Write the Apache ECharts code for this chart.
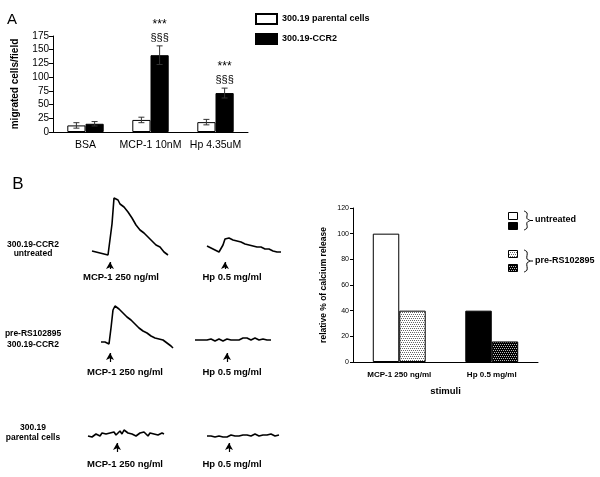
<!DOCTYPE html>
<html>
<head>
<meta charset="utf-8">
<script src="https://cdn.jsdelivr.net/npm/echarts@6/dist/echarts.min.js"></script>
<style>
html, body { margin: 0; padding: 0; background: #fff; }
#chart { width: 600px; height: 477px; }
</style>
</head>
<body>
<div id="chart"></div>
<script>
// ---- panel A : migration assay ----
const migCategories = ['BSA', 'MCP-1 10nM', 'Hp 4.35uM'];
const migParental = [12, 22, 18];
const migParentalErr = [5, 5, 5];
const migCCR2 = [15, 140, 71];
const migCCR2Err = [4, 17, 9];
const migStars = ['', '***', '***'];
const migSects = ['', '§§§', '§§§'];

// ---- panel B : calcium traces (signal, one sample every 2 s) ----
const mcpUntreated = [6,5,5,4,4,4,3,3,2,2,33,59,57,57,53,53,50,48,45,43,39,37,32,31,27,27,24,23,20,19,16,15,12,11,10,8,5,4,2];
const hpUntreated = [11,10,9,8,7,6,5,4,12,18,20,19,19,17,17,16,15,15,14,13,13,12,12,11,11,10,9,10,8,8,7,8,6,6,7,5,4,5];
const mcpPreRS = [8,7,8,6,6,22,40,44,43,41,40,37,36,33,32,30,28,26,25,22,22,19,19,17,16,14,15,12,12,11,10,10,8,7,6,4,2];
const hpPreRS = [10,9,10,11,10,9,10,12,11,10,9,10,11,10,9,10,11,12,10,9,10,11,10,11,12,13,12,11,10,11,12,11,10,10,11,10,10,11,10];
const mcpParental = [9,10,8,9,11,10,9,12,10,11,9,12,11,13,10,12,14,11,15,13,12,10,11,13,9,11,12,10,13,11,9,12,10,11,12,10,11,12,11];
const hpParental = [9,9,9,9,8,9,9,8,8,9,8,9,10,9,9,10,9,10,10,9,10,10,9,10,11,10,9,10,10,11,10,10,11,10,9,10,10];
const injectAt = [9, 9, 4.5, 16, 14.5, 11];

// ---- panel B : calcium release bars ----
const calcCategories = ['MCP-1 250 ng/ml', 'Hp 0.5 mg/ml'];
const calcUntreated = [100, 40];
const calcPreRS = [40, 16];

const FONT = '"Liberation Sans", Arial, sans-serif';
const BAR_FRAC = 0.28;

function dotPattern(bg, dot) {
    const c = document.createElement('canvas');
    c.width = 4; c.height = 4;
    const ctx = c.getContext('2d');
    ctx.fillStyle = bg;
    ctx.fillRect(0, 0, 4, 4);
    ctx.fillStyle = dot;
    [[0, 0], [2, 0], [1, 2], [3, 2]].forEach(p => ctx.fillRect(p[0], p[1], 1, 1));
    return { image: c, repeat: 'repeat' };
}
const lightDots = dotPattern('#fff', '#666');
const darkDots = dotPattern('#000', '#bbb');
const calcColors = [['#fff', '#000'], [lightDots, darkDots]];

function errorSeries(values, errs, pos, marks) {
    return {
        type: 'custom', xAxisIndex: 0, yAxisIndex: 0, z: 5, silent: true,
        data: values.map((v, i) => [i, v, errs[i]]),
        renderItem: function (params, api) {
            const cat = api.value(0), v = api.value(1), e = api.value(2);
            const band = api.size([1, 0])[0];
            const off = (pos - 0.5) * band * BAR_FRAC;
            const top = api.coord([cat, v + e]);
            const bot = api.coord([cat, v - e]);
            const x = top[0] + off;
            const st = { stroke: '#333', lineWidth: 1 };
            const children = [
                { type: 'line', shape: { x1: x, y1: top[1], x2: x, y2: bot[1] }, style: st },
                { type: 'line', shape: { x1: x - 3, y1: top[1], x2: x + 3, y2: top[1] }, style: st },
                { type: 'line', shape: { x1: x - 3, y1: bot[1], x2: x + 3, y2: bot[1] }, style: st }
            ];
            if (marks && marks[0][params.dataIndex]) {
                children.push({ type: 'text', x: x, y: top[1] - 21, style: { text: marks[0][params.dataIndex], fontSize: 12, fontFamily: FONT, fill: '#000', align: 'center', verticalAlign: 'middle' } });
                children.push({ type: 'text', x: x, y: top[1] - 8, style: { text: marks[1][params.dataIndex], fontSize: 11, fontFamily: FONT, fill: '#000', align: 'center', verticalAlign: 'middle' } });
            }
            return { type: 'group', children: children };
        }
    };
}

// trace layouts: left edge, pixel row of zero signal, arrow extent (signal units)
const traceLayout = [
    { data: mcpUntreated, left: 92, zeroY: 257, arrow: [-12, -5] },
    { data: hpUntreated, left: 207, zeroY: 257, arrow: [-12, -5] },
    { data: mcpPreRS, left: 101, zeroY: 350, arrow: [-12, -3] },
    { data: hpPreRS, left: 195, zeroY: 350, arrow: [-12, -3] },
    { data: mcpParental, left: 88, zeroY: 445, arrow: [-7, 2] },
    { data: hpParental, left: 207, zeroY: 445, arrow: [-7, 2] }
];

const grids = [
    { left: 53, top: 36, width: 195, height: 96 },
    { left: 353, top: 208, width: 185, height: 154 }
];
const xAxes = [
    { gridIndex: 0, type: 'category', data: migCategories,
      axisLine: { lineStyle: { color: '#000' } }, axisTick: { show: false },
      axisLabel: { color: '#000', fontSize: 10.5, fontFamily: FONT, margin: 8, interval: 0 } },
    { gridIndex: 1, type: 'category', data: calcCategories,
      axisLine: { lineStyle: { color: '#000' } }, axisTick: { show: false },
      axisLabel: { color: '#000', fontSize: 8, fontWeight: 'bold', fontFamily: FONT, margin: 9, interval: 0 },
      name: 'stimuli', nameLocation: 'middle', nameGap: 24,
      nameTextStyle: { color: '#000', fontSize: 9.5, fontWeight: 'bold', fontFamily: FONT } }
];
const yAxes = [
    { gridIndex: 0, type: 'value', min: 0, max: 175, interval: 25,
      axisLine: { show: true, lineStyle: { color: '#000' } },
      axisTick: { show: true, length: 4, lineStyle: { color: '#000' } },
      axisLabel: { color: '#000', fontSize: 10, fontFamily: FONT, margin: 4 },
      splitLine: { show: false },
      name: 'migrated cells/field', nameLocation: 'middle', nameGap: 33,
      nameTextStyle: { color: '#000', fontSize: 10, fontWeight: 'bold', fontFamily: FONT } },
    { gridIndex: 1, type: 'value', min: 0, max: 120, interval: 20,
      axisLine: { show: true, lineStyle: { color: '#000' } },
      axisTick: { show: true, length: 3, lineStyle: { color: '#000' } },
      axisLabel: { color: '#000', fontSize: 7, fontFamily: FONT, margin: 4 },
      splitLine: { show: false },
      name: 'relative % of calcium release', nameLocation: 'middle', nameGap: 25,
      nameTextStyle: { color: '#000', fontSize: 8.5, fontWeight: 'bold', fontFamily: FONT } }
];

const series = [
    { name: '300.19 parental cells', type: 'bar', xAxisIndex: 0, yAxisIndex: 0, data: migParental,
      barWidth: (BAR_FRAC * 100) + '%', barGap: '0%',
      itemStyle: { color: '#fff', borderColor: '#000', borderWidth: 1 } },
    { name: '300.19-CCR2', type: 'bar', xAxisIndex: 0, yAxisIndex: 0, data: migCCR2,
      barWidth: (BAR_FRAC * 100) + '%', barGap: '0%',
      itemStyle: { color: '#000', borderColor: '#000', borderWidth: 1 } },
    errorSeries(migParental, migParentalErr, 0, null),
    errorSeries(migCCR2, migCCR2Err, 1, [migStars, migSects]),
    { name: 'untreated', type: 'bar', xAxisIndex: 1, yAxisIndex: 1, barWidth: '28.6%', barGap: '0%',
      data: calcUntreated.map((v, i) => ({ value: v, itemStyle: { color: calcColors[0][i] } })),
      itemStyle: { borderColor: '#000', borderWidth: 1 } },
    { name: 'pre-RS102895', type: 'bar', xAxisIndex: 1, yAxisIndex: 1, barWidth: '28.6%', barGap: '0%',
      data: calcPreRS.map((v, i) => ({ value: v, itemStyle: { color: calcColors[1][i] } })),
      itemStyle: { borderColor: '#000', borderWidth: 1 } }
];

traceLayout.forEach((t, k) => {
    const gi = grids.length;
    grids.push({ left: t.left, top: t.zeroY - 60, width: (t.data.length - 1) * 2, height: 75 });
    xAxes.push({ gridIndex: gi, type: 'value', min: 0, max: t.data.length - 1, show: false });
    yAxes.push({ gridIndex: gi, type: 'value', min: -15, max: 60, show: false });
    series.push({
        type: 'line', xAxisIndex: gi, yAxisIndex: gi, silent: true,
        data: t.data.map((v, i) => [i, v]), showSymbol: false,
        lineStyle: { color: '#000', width: 1.6 },
        markLine: {
            silent: true, symbol: ['none', 'arrow'], symbolSize: [6, 7],
            label: { show: false },
            lineStyle: { color: '#000', width: 1.2, type: 'solid' },
            data: [[{ coord: [injectAt[k], t.arrow[0]] }, { coord: [injectAt[k], t.arrow[1]] }]]
        }
    });
});

function txt(text, x, y, size, bold, align) {
    return { type: 'text', x: x, y: y, silent: true,
        style: { text: text, fontSize: size, fontWeight: bold ? 'bold' : 'normal', fontFamily: FONT,
                 fill: '#000', align: align || 'center', verticalAlign: 'middle', lineHeight: size + 1 } };
}
function brace(x, y0, y1) {
    const ym = (y0 + y1) / 2;
    return [
        { type: 'polyline', silent: true, shape: { smooth: 0.4, points: [[x, y0], [x + 3, y0 + 2], [x + 3, ym - 2], [x + 6, ym], [x + 3, ym + 2], [x + 3, y1 - 2], [x, y1]] },
          style: { stroke: '#000', fill: null, lineWidth: 1 } },
        { type: 'line', silent: true, shape: { x1: x + 6, y1: ym, x2: x + 9, y2: ym }, style: { stroke: '#000', lineWidth: 1 } }
    ];
}
function box(x, y, fill) {
    return { type: 'rect', silent: true, shape: { x: x, y: y, width: 9, height: 7 },
             style: { fill: fill, stroke: '#000', lineWidth: 1 } };
}

const graphics = [
    txt('A', 12, 20, 15, false),
    txt('B', 18, 184, 17, false),
    txt('300.19-CCR2', 33, 245, 8.5, true), txt('untreated', 33, 254, 8.5, true),
    txt('pre-RS102895', 33, 334, 8.5, true), txt('300.19-CCR2', 33, 345, 8.5, true),
    txt('300.19', 33, 428, 8.5, true), txt('parental cells', 33, 438, 8.5, true),
    txt('MCP-1 250 ng/ml', 121, 277, 9.5, true), txt('Hp 0.5 mg/ml', 232, 277, 9.5, true),
    txt('MCP-1 250 ng/ml', 125, 372, 9.5, true), txt('Hp 0.5 mg/ml', 232, 372, 9.5, true),
    txt('MCP-1 250 ng/ml', 125, 464, 9.5, true), txt('Hp 0.5 mg/ml', 232, 464, 9.5, true),
    box(508.5, 212.5, '#fff'), box(508.5, 222.5, '#000'),
    box(508.5, 250.5, lightDots), box(508.5, 264.5, darkDots),
    txt('untreated', 535, 220, 9, true, 'left'),
    txt('pre-RS102895', 535, 261, 9, true, 'left')
].concat(brace(524, 211, 230), brace(524, 250, 272));

const chart = echarts.init(document.getElementById('chart'), null, { renderer: 'canvas' });
chart.setOption({
    animation: false,
    backgroundColor: '#fff',
    textStyle: { fontFamily: FONT },
    legend: {
        left: 255, top: 13, orient: 'vertical', padding: 0, icon: 'rect',
        itemWidth: 21, itemHeight: 10, itemGap: 8, selectedMode: false,
        data: ['300.19 parental cells', '300.19-CCR2'],
        textStyle: { color: '#000', fontSize: 9, fontWeight: 'bold', fontFamily: FONT }
    },
    grid: grids,
    xAxis: xAxes,
    yAxis: yAxes,
    series: series,
    graphic: graphics
});
</script>
</body>
</html>
